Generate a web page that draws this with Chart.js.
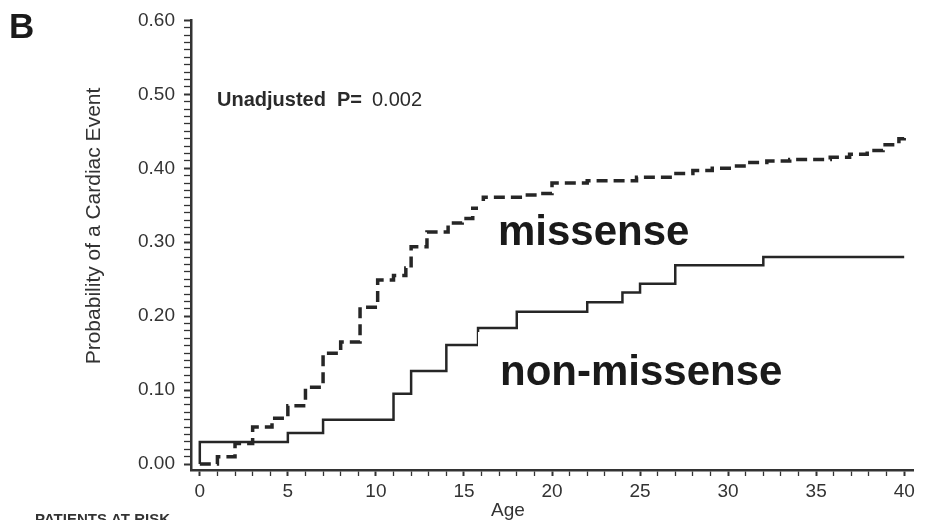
<!DOCTYPE html>
<html>
<head>
<meta charset="utf-8">
<script src="https://cdn.jsdelivr.net/npm/chart.js@4.4.1/dist/chart.umd.min.js"></script>
<style>
  body { margin: 0; background: #fff; }
  canvas { display: block; }
</style>
</head>
<body>
<canvas id="kmChart" width="934" height="520"></canvas>
<script>
// Kaplan-Meier style curves (age in years, probability)
const missenseAge = [0, 1, 2, 3, 4.1, 5.0, 6.0, 7.0, 8.0, 9.1, 10.1, 11.0, 11.7, 12.0, 12.9, 14.1, 14.9, 15.5, 16.1, 18.2, 19.3, 20.0, 22.0, 24.8, 26.9, 28.0, 29.1, 30.2, 31.1, 32.2, 33.5, 35.8, 36.9, 37.9, 38.8, 39.7, 40];
const missenseProb = [0, 0.010, 0.028, 0.050, 0.062, 0.079, 0.104, 0.150, 0.165, 0.212, 0.249, 0.255, 0.265, 0.294, 0.314, 0.326, 0.332, 0.346, 0.361, 0.364, 0.366, 0.380, 0.383, 0.388, 0.393, 0.397, 0.400, 0.403, 0.408, 0.410, 0.412, 0.415, 0.419, 0.424, 0.432, 0.440, 0.441];

const nonMissenseAge = [0, 0, 5, 7, 11, 12, 14, 15.8, 18, 22, 24, 25, 27, 32, 40];
const nonMissenseProb = [0, 0.030, 0.042, 0.060, 0.095, 0.126, 0.161, 0.184, 0.206, 0.219, 0.232, 0.244, 0.269, 0.280, 0.280];

// tick labels
const xMajorTicks = [0, 5, 10, 15, 20, 25, 30, 35, 40];
const yMajorTicks = [0.00, 0.10, 0.20, 0.30, 0.40, 0.50, 0.60];

const ink = '#262626';
Chart.defaults.font.family = '"Liberation Sans", Arial, sans-serif';
Chart.defaults.color = '#333';

function toPoints(xs, ys) {
  return xs.map((x, i) => ({ x: x, y: ys[i] }));
}

// text drawn over the plot (labels, panel letter, p value)
const annotations = {
  id: 'annotations',
  afterDatasetsDraw(chart) {
    const ctx = chart.ctx;
    ctx.save();
    ctx.textBaseline = 'alphabetic';
    ctx.textAlign = 'left';

    // white boxes behind the curve labels
    ctx.fillStyle = '#fff';
    ctx.fillRect(478, 201, 230, 56);
    ctx.fillRect(478, 332, 320, 64);

    ctx.fillStyle = '#1a1a1a';
    ctx.font = 'bold 42px "Liberation Sans", Arial, sans-serif';
    ctx.fillText('missense', 498, 245);
    ctx.fillText('non-missense', 500, 385);

    ctx.font = 'bold 35px "Liberation Sans", Arial, sans-serif';
    ctx.fillText('B', 9, 38);

    ctx.fillStyle = '#2a2a2a';
    ctx.font = 'bold 20px "Liberation Sans", Arial, sans-serif';
    ctx.fillText('Unadjusted  P=', 217, 106);
    ctx.font = '20px "Liberation Sans", Arial, sans-serif';
    ctx.fillText('0.002', 372, 106);

    ctx.fillStyle = '#333';
    ctx.font = '19px "Liberation Sans", Arial, sans-serif';
    ctx.textAlign = 'center';
    ctx.fillText('Age', 508, 516);

    ctx.save();
    ctx.translate(100, 226);
    ctx.rotate(-Math.PI / 2);
    ctx.font = '21px "Liberation Sans", Arial, sans-serif';
    ctx.fillText('Probability of a Cardiac Event', 0, 0);
    ctx.restore();

    ctx.textAlign = 'left';
    ctx.font = 'bold 15px "Liberation Sans", Arial, sans-serif';
    ctx.fillText('PATIENTS AT RISK', 35, 524);
    ctx.restore();
  }
};

const ctx = document.getElementById('kmChart').getContext('2d');
const kmChart = new Chart(ctx, {
  type: 'line',
  data: {
    datasets: [
      {
        label: 'missense',
        data: toPoints(missenseAge, missenseProb),
        stepped: 'before',
        borderColor: ink,
        borderWidth: 3.5,
        borderDash: [11, 6],
        pointRadius: 0,
        fill: false
      },
      {
        label: 'non-missense',
        data: toPoints(nonMissenseAge, nonMissenseProb),
        stepped: 'before',
        borderColor: ink,
        borderWidth: 2.5,
        pointRadius: 0,
        fill: false
      }
    ]
  },
  options: {
    responsive: false,
    devicePixelRatio: 1,
    animation: false,
    layout: { padding: { left: 0, top: 18, right: 21, bottom: 0 } },
    plugins: {
      legend: { display: false },
      tooltip: { enabled: false }
    },
    scales: {
      x: {
        type: 'linear',
        min: -0.5,
        max: 40.5,
        afterBuildTicks: (axis) => {
          const t = [];
          for (let i = 0; i <= 40; i++) t.push({ value: i });
          axis.ticks = t;
        },
        afterFit: (axis) => { axis.height = 50; },
        ticks: {
          autoSkip: false,
          maxRotation: 0,
          padding: 4,
          font: { size: 19 },
          callback: (v) => xMajorTicks.includes(v) ? String(v) : ''
        },
        grid: {
          drawOnChartArea: false,
          tickLength: 6,
          tickColor: '#333',
          tickWidth: (c) => (c.tick && xMajorTicks.includes(c.tick.value)) ? 2 : 1.3
        },
        border: { color: '#333', width: 2.5 }
      },
      y: {
        type: 'linear',
        min: -0.008,
        max: 0.60,
        afterBuildTicks: (axis) => {
          const t = [];
          for (let i = 0; i <= 60; i++) t.push({ value: i / 100 });
          axis.ticks = t;
        },
        afterFit: (axis) => { axis.width = 191; },
        ticks: {
          autoSkip: false,
          padding: 9,
          font: { size: 19 },
          callback: (v) => {
            const hit = yMajorTicks.find(m => Math.abs(m - v) < 1e-6);
            return hit !== undefined ? hit.toFixed(2) : '';
          }
        },
        grid: {
          drawOnChartArea: false,
          tickLength: 7,
          tickColor: '#333',
          tickWidth: (c) => (c.tick && yMajorTicks.some(m => Math.abs(m - c.tick.value) < 1e-6)) ? 2 : 1.3
        },
        border: { color: '#333', width: 2.5 }
      }
    }
  },
  plugins: [annotations]
});
</script>
</body>
</html>
